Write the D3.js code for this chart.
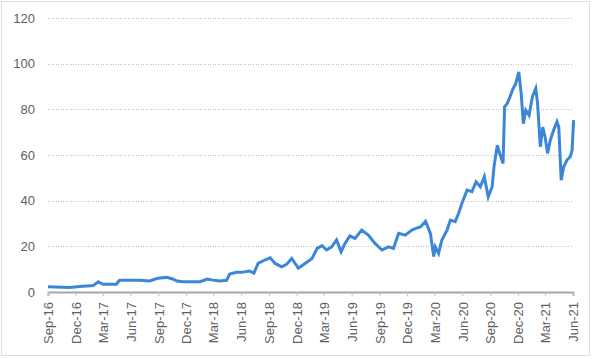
<!DOCTYPE html>
<html>
<head>
<meta charset="utf-8">
<script src="https://cdn.jsdelivr.net/npm/d3@7"></script>
<style>
  body { margin: 0; background: #fff; }
  svg text { font-family: "Liberation Sans", Arial, sans-serif; }
</style>
</head>
<body>
<div id="container"></div>
<script>
// Data (approximate closing values)
const dates = [
  "2016-09-01", "2016-11-12", "2016-12-15", "2017-01-28", "2017-02-14", "2017-03-01",
  "2017-04-15", "2017-04-25", "2017-05-18", "2017-07-01", "2017-08-03", "2017-08-29",
  "2017-09-28", "2017-10-18", "2017-11-01", "2017-11-20", "2018-01-16", "2018-02-09",
  "2018-02-28", "2018-03-22", "2018-04-14", "2018-04-24", "2018-05-17", "2018-06-02",
  "2018-06-29", "2018-07-13", "2018-07-27", "2018-08-18", "2018-09-05", "2018-09-21",
  "2018-10-13", "2018-10-29", "2018-11-15", "2018-12-07", "2018-12-29", "2019-01-21",
  "2019-02-07", "2019-02-23", "2019-03-10", "2019-03-27", "2019-04-12", "2019-04-27",
  "2019-05-10", "2019-05-26", "2019-06-12", "2019-07-04", "2019-07-26", "2019-08-17",
  "2019-09-09", "2019-09-30", "2019-10-17", "2019-11-03", "2019-11-25", "2019-12-17",
  "2020-01-03", "2020-01-14", "2020-01-31", "2020-02-16", "2020-02-27", "2020-03-03",
  "2020-03-14", "2020-03-25", "2020-04-11", "2020-04-22", "2020-05-08", "2020-05-19",
  "2020-05-30", "2020-06-16", "2020-07-02", "2020-07-16", "2020-07-30", "2020-08-12",
  "2020-08-25", "2020-09-07", "2020-09-13", "2020-09-24", "2020-10-02", "2020-10-13",
  "2020-10-18", "2020-10-27", "2020-11-05", "2020-11-13", "2020-11-24", "2020-12-04",
  "2020-12-12", "2020-12-19", "2020-12-27", "2021-01-07", "2021-01-18", "2021-01-29",
  "2021-02-04", "2021-02-13", "2021-02-21", "2021-03-01", "2021-03-09", "2021-03-18",
  "2021-03-29", "2021-04-09", "2021-04-15", "2021-04-23", "2021-05-01", "2021-05-12",
  "2021-05-23", "2021-05-29", "2021-06-03"
];
const prices = [
  2.3, 2.0, 2.4, 2.8, 4.5, 3.4,
  3.4, 5.2, 5.2, 5.1, 4.8, 6.0,
  6.4, 5.7, 4.8, 4.5, 4.5, 5.7,
  5.2, 4.8, 5.1, 7.9, 8.6, 8.6,
  9.2, 8.2, 12.5, 14.0, 15.0, 12.5,
  11.0, 12.1, 14.7, 10.4, 12.5, 14.7,
  19.1, 20.3, 18.4, 19.8, 22.8, 17.6,
  21.3, 24.6, 23.5, 27.1, 24.9, 21.3,
  18.4, 19.8, 19.1, 25.7, 24.9, 27.1,
  28.1, 28.5, 31.0, 25.7, 15.5, 19.8,
  16.9, 22.8, 27.1, 31.5, 30.8, 34.4,
  38.8, 44.6, 43.9, 48.3, 46.1, 50.5,
  41.7, 46.1, 54.8, 64.3, 60.7, 56.3,
  81.1, 82.6, 85.5, 88.4, 91.3, 96.4,
  86.8, 73.7, 79.6, 77.4, 85.5, 89.1,
  82.6, 63.6, 72.2, 67.8, 60.7, 66.5,
  70.9, 74.5, 72.2, 49.0, 54.8, 57.8,
  59.2, 62.1, 75.3
];
const yTicks = [0, 20, 40, 60, 80, 100, 120];
const xTickLabels = [
  "Sep-16", "Dec-16", "Mar-17", "Jun-17", "Sep-17", "Dec-17", "Mar-18",
  "Jun-18", "Sep-18", "Dec-18", "Mar-19", "Jun-19", "Sep-19", "Dec-19",
  "Mar-20", "Jun-20", "Sep-20", "Dec-20", "Mar-21", "Jun-21"
];

const W = 593, H = 359;
const plot = { left: 48, right: 573, top: 18, bottom: 292 };

const parseDay = d3.timeParse("%Y-%m-%d");
const parseTick = d3.timeParse("%b-%y");
const data = dates.map((d, i) => ({ date: parseDay(d), value: prices[i] }));
const tickDates = xTickLabels.map(parseTick);

const svg = d3.select("#container")
    .append("svg")
    .attr("width", W)
    .attr("height", H);

// Outer chart border (dotted)
svg.append("rect")
    .attr("x", 1.5).attr("y", 1.5)
    .attr("width", 588).attr("height", 354)
    .attr("fill", "none")
    .attr("stroke", "#bdbdbd")
    .attr("stroke-dasharray", "1,1");

const x = d3.scaleTime()
    .domain([tickDates[0], tickDates[tickDates.length - 1]])
    .range([plot.left, plot.right]);

const y = d3.scaleLinear()
    .domain([0, 120])
    .range([plot.bottom, plot.top]);

// Y axis with dotted gridlines
const yAxis = svg.append("g")
    .attr("transform", `translate(${plot.left},0)`)
    .call(d3.axisLeft(y).tickValues(yTicks).tickSize(-(plot.right - plot.left)).tickPadding(13));
yAxis.select(".domain").remove();
yAxis.selectAll(".tick line")
    .attr("stroke", "#c4c4c4")
    .attr("stroke-dasharray", "1,1.5")
    .attr("shape-rendering", "crispEdges");
yAxis.selectAll(".tick text")
    .attr("fill", "#5f5f5f")
    .style("font-size", "13px");
yAxis.selectAll(".tick").filter(d => d === 0).select("line").remove();

// X axis
const xAxis = svg.append("g")
    .attr("transform", `translate(0,${plot.bottom})`)
    .call(d3.axisBottom(x).tickValues(tickDates).tickSize(4)
        .tickFormat((d, i) => xTickLabels[i]));
xAxis.select(".domain")
    .attr("stroke", "#a6a6a6")
    .attr("stroke-width", 2);
xAxis.selectAll(".tick line")
    .attr("stroke", "#c4c4c4");
xAxis.selectAll(".tick text")
    .attr("fill", "#5f5f5f")
    .style("font-size", "13px")
    .attr("text-anchor", "end")
    .attr("transform", "rotate(-90)")
    .attr("x", -10)
    .attr("y", 0)
    .attr("dy", "0.35em");

// Price line
const line = d3.line()
    .x(d => x(d.date))
    .y(d => y(d.value));

svg.append("path")
    .datum(data)
    .attr("fill", "none")
    .attr("stroke", "#3b86d6")
    .attr("stroke-width", 3)
    .attr("stroke-linejoin", "miter")
    .attr("d", line);
</script>
</body>
</html>
